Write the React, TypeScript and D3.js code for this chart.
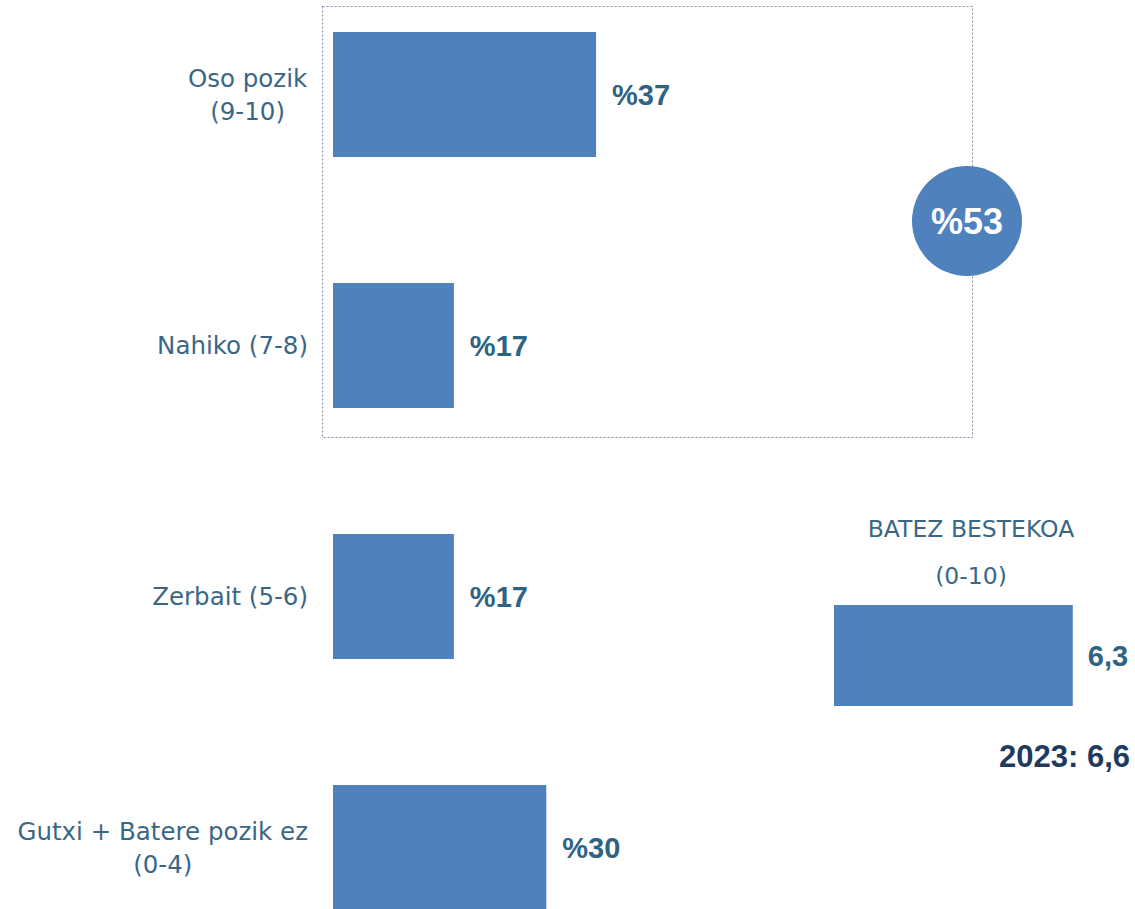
import React from "react";
import * as d3 from "d3";

const categories = ["Oso pozik\n(9-10)", "Nahiko (7-8)", "Zerbait (5-6)", "Gutxi + Batere pozik ez\n(0-4)"];
const values = [37, 17, 17, 30];
const groupTotal = 53;
const meanTitle = ["BATEZ BESTEKOA", "(0-10)"];
const meanValue = 6.3;
const previousLabel = "2023: 6,6";

const BAR = "#4f81bd";
const LABEL = "#3b6787";
const VAL = "#2f6383";
const FONT = "'DejaVu Sans', sans-serif";
const BOLD = "'Liberation Sans', Arial, sans-serif";

export default function App() {
  const x = d3.scaleLinear().domain([0, 100]).range([333, 333 + 711]);
  const y = d3.scaleBand<string>().domain(categories).range([32, 910]).paddingInner(0.502).paddingOuter(0);
  const xm = d3.scaleLinear().domain([0, 10]).range([834, 834 + 379]);
  const fmt = (v: number) => v.toFixed(1).replace(".", ",");
  return (
    <svg width={1135} height={909} style={{ position: "absolute", left: 0, top: 0, background: "#fff" }}>
      <rect x={322.5} y={6.5} width={650} height={431} fill="none" stroke="#7f8ea6" strokeWidth={1} strokeDasharray="2,2" />
      {categories.map((c, i) => {
        const y0 = y(c)!;
        const bw = y.bandwidth();
        const cy = y0 + bw / 2;
        const lines = c.split("\n");
        const lh = 33;
        return (
          <g key={c}>
            <rect x={x(0)} y={y0} width={x(values[i]) - x(0)} height={bw} fill={BAR} />
            <text
              fill={LABEL}
              fontFamily={FONT}
              fontSize={24.5}
              textAnchor="middle"
              ref={(el) => {
                if (!el) return;
                const bb = el.getBBox();
                const right = 308;
                el.setAttribute("transform", `translate(${right - (bb.x + bb.width)},0)`);
              }}
            >
              {lines.map((l, j) => (
                <tspan key={j} x={0} y={cy + (j - (lines.length - 1) / 2) * lh} dy="0.35em">
                  {l}
                </tspan>
              ))}
            </text>
            <text x={x(values[i]) + 16} y={cy} dy="0.36em" fill={VAL} fontFamily={BOLD} fontWeight="bold" fontSize={29}>
              {"%" + values[i]}
            </text>
          </g>
        );
      })}
      <circle cx={967} cy={221} r={55} fill={BAR} />
      <text x={967} y={221} dy="0.36em" textAnchor="middle" fill="#fff" fontFamily={BOLD} fontWeight="bold" fontSize={36}>
        {"%" + groupTotal}
      </text>
      {meanTitle.map((t, j) => (
        <text key={t} x={971} y={529 + j * 47} dy="0.35em" textAnchor="middle" fill={LABEL} fontFamily={FONT} fontSize={23.5}>
          {t}
        </text>
      ))}
      <rect x={xm(0)} y={605} width={xm(meanValue) - xm(0)} height={101} fill={BAR} />
      <text x={xm(meanValue) + 15} y={656} dy="0.36em" fill={VAL} fontFamily={BOLD} fontWeight="bold" fontSize={29}>
        {fmt(meanValue)}
      </text>
      <text x={1130} y={756} dy="0.36em" textAnchor="end" fill="#1f3a5f" fontFamily={BOLD} fontWeight="bold" fontSize={31}>
        {previousLabel}
      </text>
    </svg>
  );
}
